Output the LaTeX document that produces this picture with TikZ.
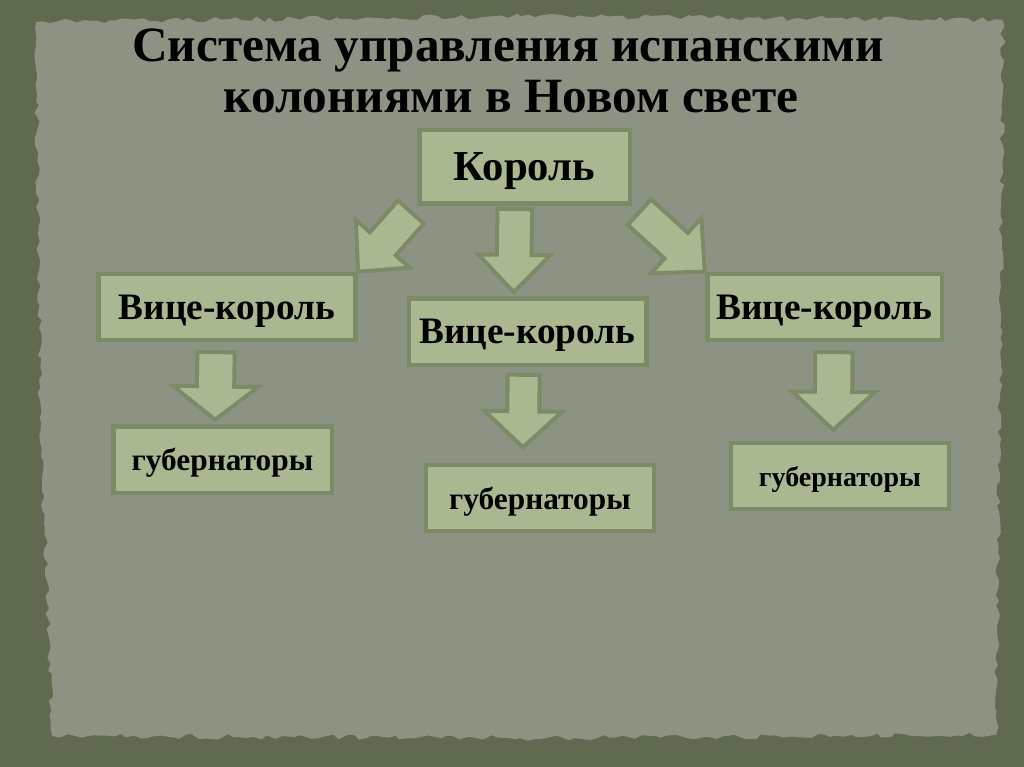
\documentclass[tikz,border=0pt]{standalone}
\usepackage{fontspec}
\setmainfont{Liberation Serif}
\usetikzlibrary{calc,decorations.pathmorphing}

\definecolor{frame}{RGB}{96,106,80}
\definecolor{paper}{RGB}{141,147,131}
\definecolor{boxfill}{RGB}{169,184,145}
\definecolor{boxline}{RGB}{123,139,103}

\tikzset{
  box/.style={draw=boxline, fill=boxfill, line width=3.5pt, font=\bfseries, text=black, inner sep=0pt, text depth=0pt},
  arrowbox/.style={draw=boxline, fill=boxfill, line width=3pt, line join=miter},
  title/.style={font=\fontsize{37}{42}\selectfont\bfseries, text=black, anchor=base},
}

% block arrow: from, to, shaft half, head half, head length
\newcommand{\blockarrow}[5]{%
  \coordinate (ba-s) at (#1);
  \coordinate (ba-t) at (#2);
  \coordinate (ba-h) at ($(ba-t)!#5!(ba-s)$);
  \draw[arrowbox] ($(ba-s)!#3!90:(ba-t)$) -- ($(ba-h)!#3!90:(ba-t)$)
    -- ($(ba-h)!#4!90:(ba-t)$) -- (ba-t) -- ($(ba-h)!#4!-90:(ba-t)$)
    -- ($(ba-h)!#3!-90:(ba-t)$) -- ($(ba-s)!#3!-90:(ba-t)$) -- cycle;
}

\begin{document}
\begin{tikzpicture}[x=0.75pt,y=-0.75pt]
\useasboundingbox (0,0) rectangle (1024,767);
\fill[frame] (0,0) rectangle (1024,767);

% torn paper
\pgfmathsetseed{7}
\fill[paper, decorate, decoration={random steps, segment length=5pt, amplitude=2pt}]
  (36,22) -- (520,16) -- (1003,20) -- (1000,400) -- (996,735)
  -- (520,738) -- (52,736) -- (40,400) -- cycle;

\node[title] (title1) at (508,62) {Система управления испанскими};
\node[title] (title2) at (511,113) {колониями в Новом свете};

\node[box, minimum width=158pt, minimum height=55pt, font=\fontsize{32}{36}\selectfont\bfseries] (king) at (524.5,166.5) {Король};

\node[box, minimum width=193pt, minimum height=49.5pt, font=\fontsize{28}{32}\selectfont\bfseries] (vc1) at (227,307) {Вице-король};
\node[box, minimum width=178pt, minimum height=50pt, font=\fontsize{28}{32}\selectfont\bfseries] (vc2) at (527.5,331.5) {Вице-король};
\node[box, minimum width=176pt, minimum height=49.5pt, font=\fontsize{28}{32}\selectfont\bfseries] (vc3) at (824.5,307) {Вице-король};

\node[box, minimum width=164pt, minimum height=50pt, font=\fontsize{23.5}{27}\selectfont\bfseries] (gov1) at (222.5,459.5) {губернаторы};
\node[box, minimum width=171pt, minimum height=49.5pt, font=\fontsize{23.5}{27}\selectfont\bfseries] (gov2) at (540,498) {губернаторы};
\node[box, minimum width=163.5pt, minimum height=49.5pt, font=\fontsize{21}{25}\selectfont\bfseries] (gov3) at (840,476) {губернаторы};

\blockarrow{$(king.256)!0.04!(vc2.111)$}{$(vc2.111)!0.04!(king.256)$}{13pt}{27pt}{28pt}
\blockarrow{$(king.south west)!0.1!(vc1.north east)$}{vc1.north east}{13pt}{27pt}{28pt}
\blockarrow{$(king.south east)!0.1!(vc3.north west)$}{vc3.north west}{13pt}{28pt}{29pt}

\blockarrow{$(vc1.253)!0.12!(gov1.102)$}{$(gov1.102)!0.05!(vc1.253)$}{14pt}{32pt}{25pt}
\blockarrow{$(vc2.264)!0.08!(gov2.116)$}{$(gov2.116)!0.16!(vc2.264)$}{12pt}{29pt}{27pt}
\blockarrow{$(vc3.285)!0.1!(gov3.101)$}{$(gov3.101)!0.11!(vc3.285)$}{14pt}{31pt}{28.5pt}
\end{tikzpicture}
\end{document}
